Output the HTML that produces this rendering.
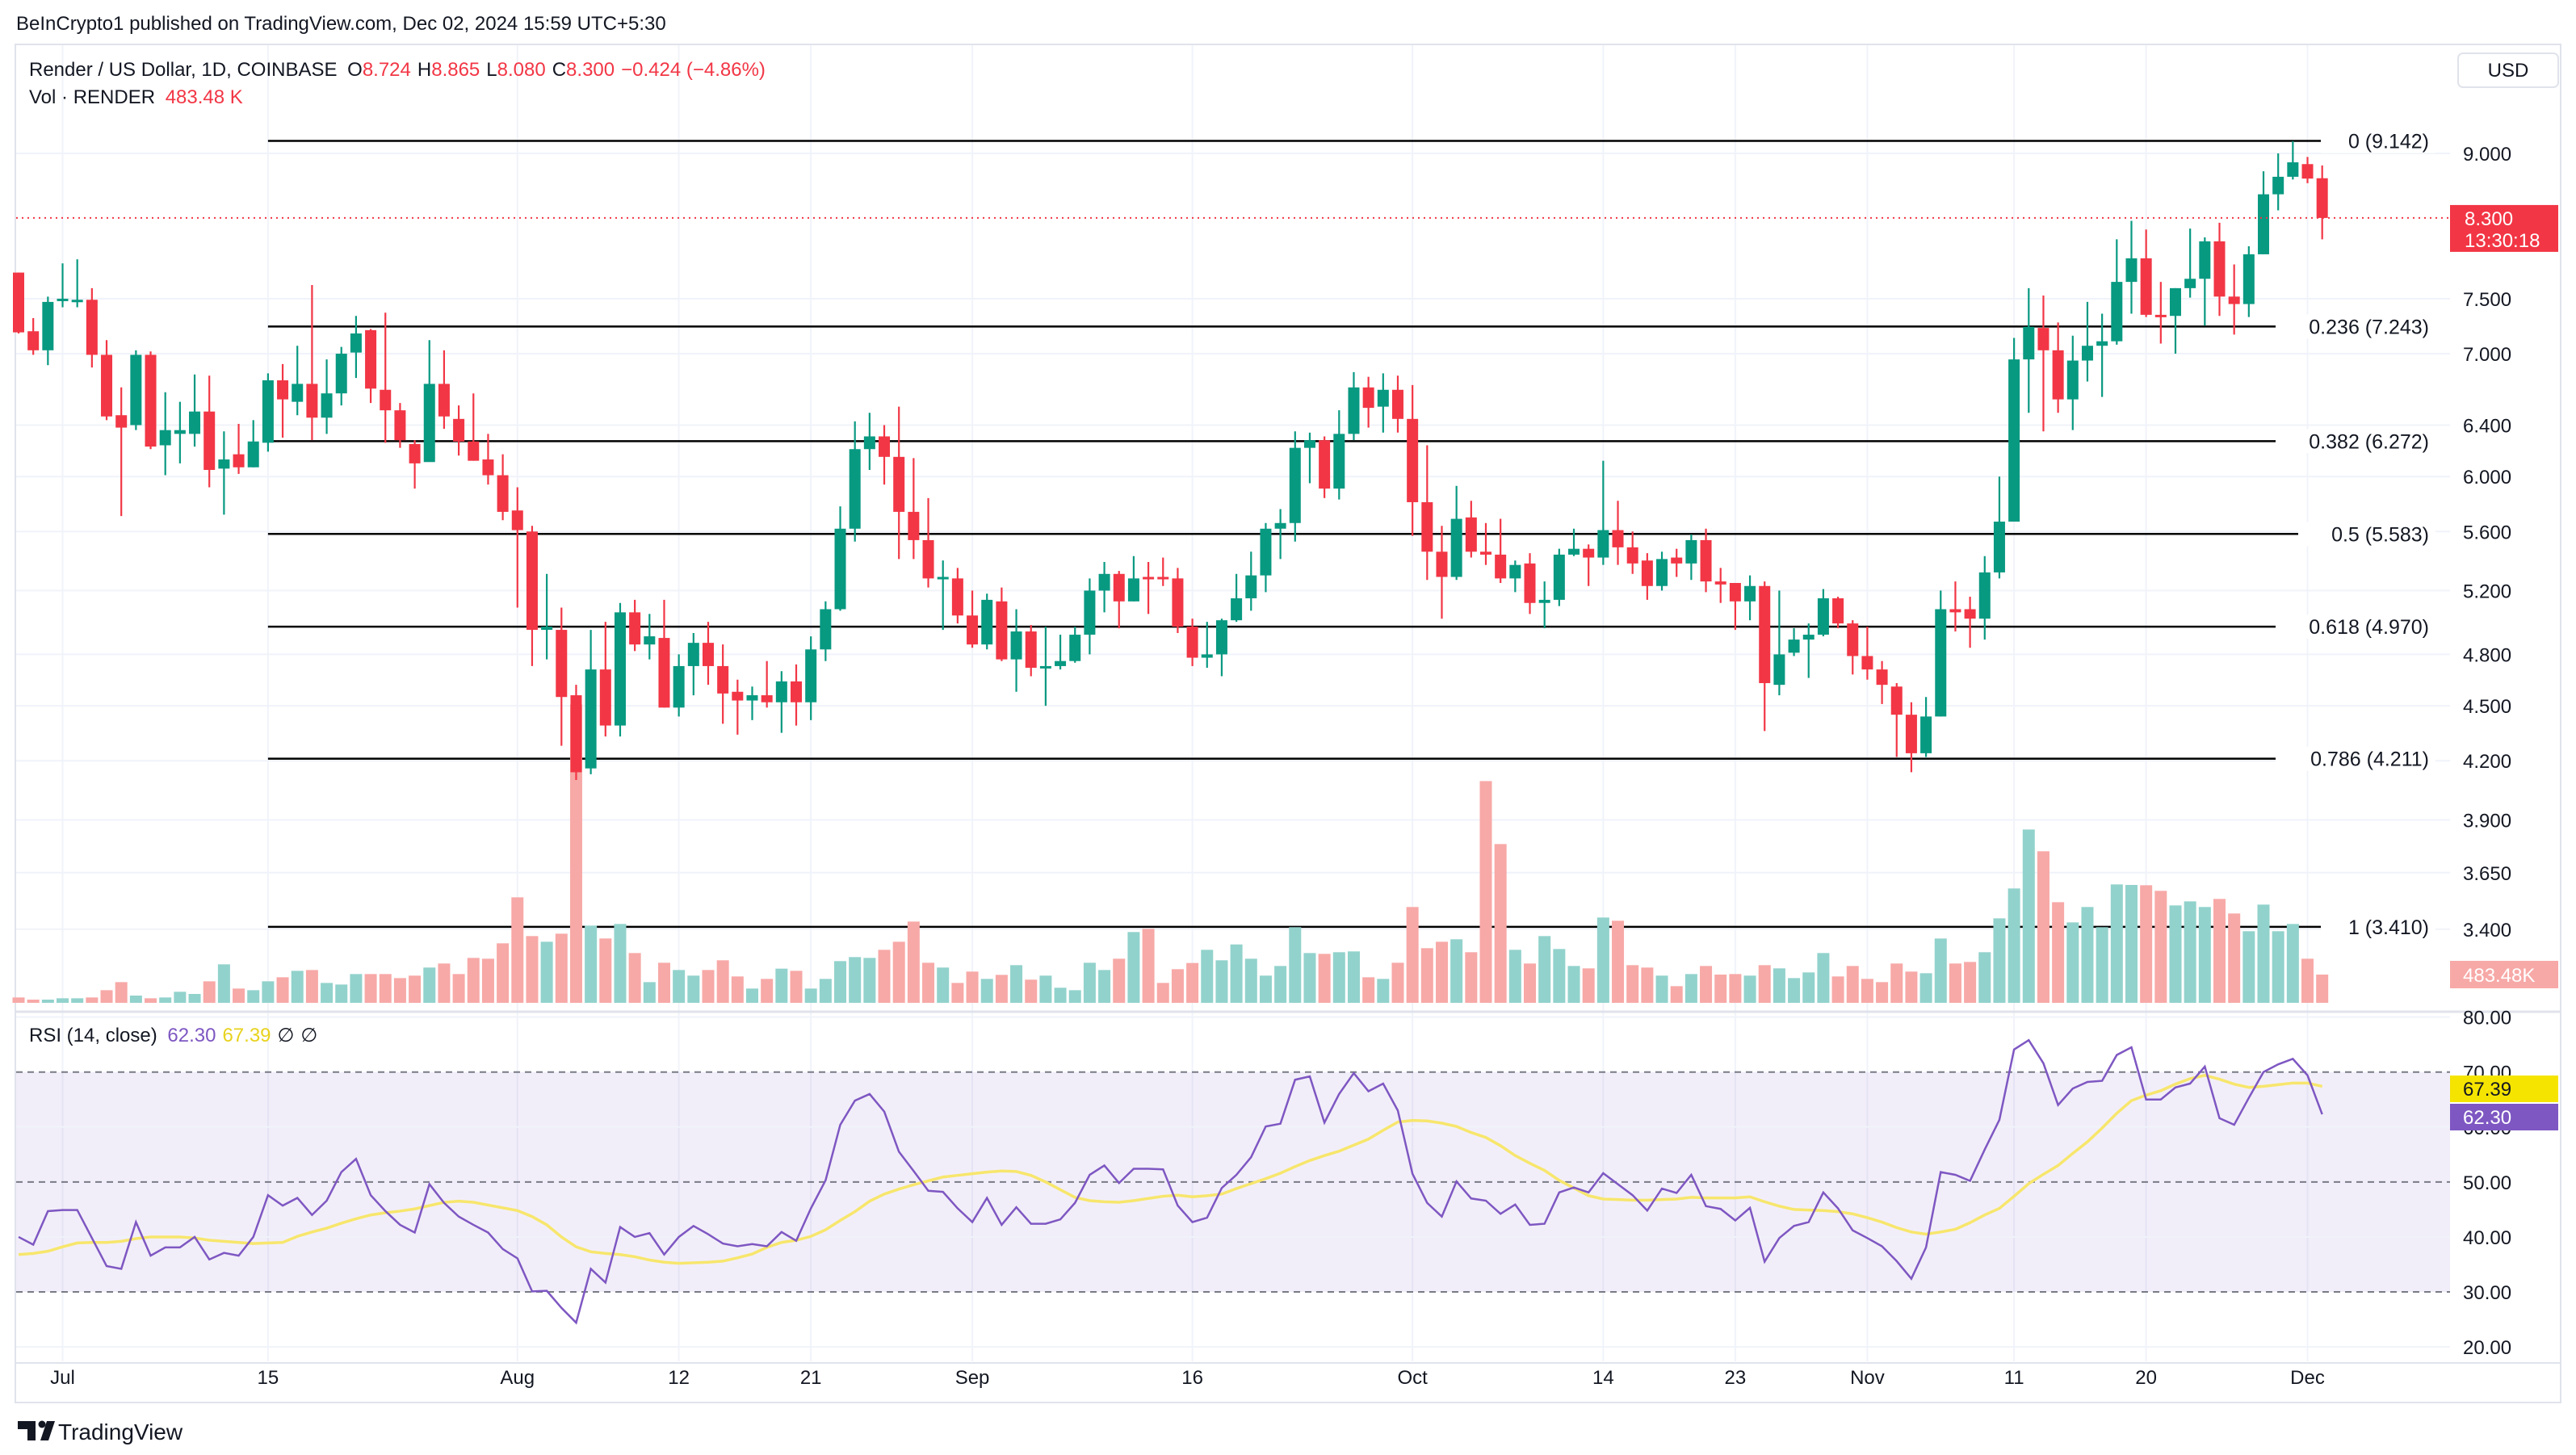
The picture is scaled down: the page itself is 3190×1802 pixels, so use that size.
<!DOCTYPE html>
<html><head><meta charset="utf-8"><style>
html,body{margin:0;padding:0;background:#fff;}
svg{display:block;font-family:"Liberation Sans",sans-serif;}
</style></head><body>
<svg id="chart" width="3190" height="1802" viewBox="0 0 3190 1802" xmlns="http://www.w3.org/2000/svg">
<rect x="0" y="0" width="3190" height="1802" fill="#fff"/>
<text x="20" y="37" font-size="24" fill="#131722">BeInCrypto1 published on TradingView.com, Dec 02, 2024 15:59 UTC+5:30</text>
<rect x="19" y="55" width="3152" height="1682" fill="none" stroke="#e0e3eb" stroke-width="2"/>
<g id="grid"></g>
<g id="fib"></g>
<g id="vol"></g>
<g id="candles"></g>
<g id="rsi"></g>
<g id="axes"></g>
<g>
<text x="36" y="94" font-size="24" fill="#131722">Render / US Dollar, 1D, COINBASE <tspan dx="6">O</tspan><tspan fill="#f23645">8.724</tspan><tspan dx="8">H</tspan><tspan fill="#f23645">8.865</tspan><tspan dx="8">L</tspan><tspan fill="#f23645">8.080</tspan><tspan dx="8">C</tspan><tspan fill="#f23645">8.300</tspan><tspan dx="8" fill="#f23645">−0.424 (−4.86%)</tspan></text>
<text x="36" y="128" font-size="24" fill="#131722">Vol · RENDER <tspan dx="6" fill="#f23645">483.48 K</tspan></text>
<text x="36" y="1290" font-size="24" fill="#131722">RSI (14, close) <tspan dx="6" fill="#7e57c2">62.30</tspan><tspan dx="8" fill="#e8d21d">67.39</tspan><tspan dx="8">∅</tspan><tspan dx="8">∅</tspan></text>
</g>
<g><rect x="3044" y="66" width="124" height="42" rx="6" fill="#fff" stroke="#e0e3eb" stroke-width="2"/><text x="3106" y="95" font-size="24" text-anchor="middle" fill="#131722">USD</text></g>
<g>
<path d="M22 1760h22v24h-10v-14h-12z" fill="#131722"/><circle cx="52" cy="1764" r="4.5" fill="#131722"/><path d="M50 1784l8-24h10l-8 24z" fill="#131722"/>
<text x="72" y="1783" font-size="28" fill="#131722">TradingView</text></g>
</svg>
<script>
const tickDays=[3,17,34,45,54,65,80,95,108,117,126,136,145,156];
const tickLabels=["Jul","15","Aug","12","21","Sep","16","Oct","14","23","Nov","11","20","Dec"];
const priceTicks=[9.0,7.5,7.0,6.4,6.0,5.6,5.2,4.8,4.5,4.2,3.9,3.65,3.4];
const fibRatios=["0","0.236","0.382","0.5","0.618","0.786","1"];
const fibPrices=[9.142,7.243,6.272,5.583,4.970,4.211,3.410];
const rsiTicks=[80,70,60,50,40,30,20];
const open=[7.75,7.2,7.03,7.48,7.48,7.49,6.99,6.48,6.40,6.99,6.24,6.33,6.33,6.51,6.06,6.17,6.07,6.26,6.77,6.59,6.74,6.46,6.66,7.01,7.21,6.69,6.52,6.25,6.11,6.74,6.45,6.27,6.13,6.01,5.75,5.60,4.95,4.95,4.56,4.16,4.71,4.39,5.06,4.86,4.90,4.49,4.73,4.87,4.73,4.58,4.53,4.56,4.52,4.64,4.52,4.83,5.08,5.62,6.21,6.31,6.15,5.74,5.54,5.28,5.28,5.04,4.86,5.13,4.77,4.94,4.72,4.73,4.76,4.92,5.20,5.31,5.13,5.29,5.29,5.28,4.97,4.78,4.80,5.01,5.15,5.30,5.62,5.66,6.22,6.28,5.91,6.33,6.71,6.55,6.69,6.45,5.81,5.46,5.29,5.70,5.46,5.44,5.28,5.38,5.12,5.14,5.44,5.48,5.42,5.61,5.49,5.40,5.23,5.42,5.38,5.54,5.26,5.25,5.13,5.23,4.62,4.81,4.89,4.92,5.15,4.99,4.79,4.71,4.61,4.45,4.24,4.44,5.08,5.08,5.02,5.32,5.67,6.95,7.23,7.03,6.61,6.94,7.07,7.11,7.66,7.89,7.35,7.34,7.60,7.69,8.06,7.52,7.45,7.93,8.55,8.74,8.88,8.724];
const high=[7.75,7.32,7.52,7.84,7.88,7.60,7.12,6.71,7.03,7.02,6.67,6.59,6.82,6.81,6.35,6.41,6.44,6.83,6.91,7.07,7.63,6.95,7.06,7.34,7.22,7.37,6.58,6.28,7.12,7.03,6.56,6.66,6.33,6.17,5.92,5.64,5.31,5.09,4.62,4.95,5.00,5.12,5.14,5.05,5.14,4.80,4.93,5.00,4.86,4.65,4.61,4.76,4.70,4.74,4.91,5.13,5.78,6.43,6.50,6.40,6.55,6.14,5.84,5.40,5.35,5.20,5.18,5.22,5.08,4.98,4.97,4.92,4.97,5.28,5.39,5.33,5.43,5.39,5.42,5.35,5.02,5.00,5.02,5.31,5.46,5.66,5.76,6.35,6.34,6.31,6.52,6.84,6.80,6.83,6.81,6.73,6.24,5.64,5.93,5.82,5.66,5.69,5.40,5.45,5.26,5.48,5.62,5.51,6.12,5.82,5.60,5.45,5.46,5.48,5.58,5.62,5.35,5.25,5.30,5.26,5.20,4.96,4.99,5.21,5.16,5.01,4.97,4.76,4.63,4.52,4.55,5.20,5.26,5.16,5.43,6.00,7.14,7.60,7.53,7.28,7.16,7.47,7.36,8.08,8.27,8.18,7.66,7.60,8.19,8.10,8.25,7.83,8.01,8.80,9.00,9.14,8.96,8.865];
const low=[7.18,6.99,6.90,7.42,7.42,6.88,6.44,5.71,6.36,6.21,6.01,6.10,6.23,5.92,5.72,6.02,6.07,6.19,6.30,6.48,6.28,6.33,6.56,6.79,6.58,6.26,6.22,5.91,6.13,6.37,6.16,6.12,5.94,5.68,5.09,4.73,4.77,4.28,4.10,4.13,4.33,4.33,4.82,4.77,4.49,4.44,4.56,4.62,4.40,4.34,4.42,4.49,4.35,4.39,4.42,4.76,5.07,5.53,6.05,5.94,5.41,5.41,5.22,4.95,4.99,4.84,4.83,4.76,4.58,4.67,4.50,4.71,4.75,4.80,5.06,4.96,5.13,5.05,5.23,4.93,4.73,4.72,4.67,5.00,5.07,5.19,5.41,5.53,5.95,5.84,5.83,6.28,6.38,6.34,6.34,5.57,5.27,5.02,5.27,5.42,5.37,5.25,5.19,5.05,4.96,5.10,5.43,5.23,5.37,5.37,5.31,5.14,5.20,5.29,5.27,5.19,5.12,4.95,5.01,4.36,4.56,4.79,4.66,4.91,4.96,4.68,4.65,4.51,4.22,4.14,4.22,4.44,4.94,4.84,4.89,5.28,5.68,6.50,6.35,6.50,6.36,6.76,6.63,7.08,7.36,7.33,7.09,7.00,7.51,7.25,7.34,7.17,7.33,7.93,8.38,8.71,8.67,8.08];
const close=[7.19,7.03,7.47,7.50,7.49,6.99,6.47,6.38,6.99,6.23,6.36,6.36,6.51,6.05,6.13,6.07,6.27,6.77,6.61,6.74,6.46,6.66,7.00,7.18,6.70,6.52,6.28,6.10,6.74,6.47,6.27,6.12,6.01,5.74,5.61,4.95,4.97,4.55,4.14,4.71,4.39,5.06,4.86,4.91,4.49,4.73,4.87,4.73,4.57,4.53,4.56,4.52,4.64,4.52,4.83,5.08,5.62,6.21,6.31,6.15,5.74,5.54,5.28,5.29,5.04,4.86,5.14,4.77,4.94,4.72,4.73,4.76,4.92,5.20,5.31,5.13,5.28,5.28,5.28,4.97,4.78,4.80,5.01,5.15,5.30,5.62,5.66,6.22,6.28,5.91,6.33,6.71,6.54,6.69,6.45,5.81,5.46,5.29,5.69,5.46,5.44,5.28,5.37,5.12,5.14,5.44,5.48,5.42,5.61,5.49,5.38,5.23,5.41,5.38,5.54,5.26,5.24,5.13,5.23,4.63,4.80,4.89,4.92,5.15,4.99,4.79,4.71,4.62,4.45,4.24,4.44,5.08,5.06,5.02,5.32,5.67,6.95,7.24,7.03,6.61,6.94,7.07,7.11,7.66,7.89,7.35,7.34,7.60,7.69,8.06,7.52,7.45,7.93,8.55,8.74,8.90,8.72,8.30];
const volumeK=[92,55,55,78,78,92,216,354,124,78,92,189,152,368,658,244,216,368,437,547,561,340,313,492,492,492,423,465,603,672,492,768,754,1017,1803,1141,1044,1182,5100,1320,1100,1348,851,354,685,561,465,561,727,451,244,409,584,547,244,409,713,782,768,906,1044,1389,685,603,340,534,409,478,644,396,465,258,216,685,561,754,1210,1265,340,575,681,906,727,998,754,465,630,1293,851,837,865,879,437,409,685,1638,934,1044,1086,865,3790,2714,906,672,1141,920,630,589,1458,1403,644,603,465,285,492,630,483,492,465,644,589,423,520,851,451,630,409,354,672,534,506,1099,672,699,865,1444,1955,2962,2590,1720,1375,1638,1293,2024,2015,2010,1914,1665,1734,1638,1776,1527,1224,1679,1224,1348,754,483];
const rsi=[40.0,38.6,44.7,44.9,44.9,39.8,34.7,34.2,42.7,36.6,38.1,38.1,40.0,35.9,37.1,36.6,40.0,47.6,45.7,47.1,44.0,46.6,51.8,54.2,47.6,44.7,42.2,40.8,49.6,46.2,43.7,42.2,40.8,37.8,36.1,30.1,30.2,27.1,24.4,34.2,31.7,41.8,40.0,40.7,36.8,40.0,42.0,40.5,38.8,38.3,38.7,38.3,40.9,39.3,45.2,50.3,60.4,64.8,66.0,62.8,55.5,52.0,48.4,48.2,45.2,42.7,47.1,42.2,45.4,42.4,42.4,43.2,46.2,51.3,53.0,49.8,52.4,52.4,52.3,45.7,42.7,43.5,48.9,51.3,54.5,60.1,60.6,68.6,69.2,60.8,66.0,69.8,66.5,67.9,63.0,51.5,46.2,43.7,50.1,47.0,46.6,44.2,45.9,42.2,42.4,48.1,49.0,48.1,51.6,49.6,47.6,44.8,48.8,48.0,51.3,45.6,45.1,43.0,45.3,35.5,39.8,42.0,42.7,48.1,45.2,41.2,39.8,38.3,35.6,32.4,38.1,51.8,51.3,50.2,55.9,61.3,74.1,75.8,71.6,64.0,67.0,68.2,68.4,73.1,74.5,65.0,65.0,67.2,67.9,71.0,61.6,60.4,65.3,70.0,71.4,72.4,69.4,62.3];
const rsiMa=[36.8,37.0,37.4,38.2,38.9,39.0,39.0,39.2,39.7,40.0,40.0,40.0,39.8,39.4,39.2,39.0,38.8,38.9,39.0,40.1,40.9,41.6,42.5,43.3,44.0,44.4,44.7,45.1,45.7,46.3,46.5,46.3,45.8,45.3,44.8,43.7,42.2,40.0,38.2,37.3,37.0,36.8,36.4,35.8,35.4,35.2,35.3,35.4,35.6,36.2,36.9,38.1,39.0,39.4,40.1,41.3,43.0,44.6,46.5,47.8,48.7,49.5,50.2,50.9,51.2,51.5,51.8,52.0,51.9,51.2,50.0,48.6,47.2,46.6,46.4,46.3,46.6,47.0,47.4,47.6,47.3,47.5,47.8,48.8,49.7,50.6,51.6,52.8,53.9,54.8,55.6,56.7,57.8,59.4,60.9,61.2,61.1,60.7,60.1,59.0,58.1,56.6,54.8,53.4,52.1,50.3,48.9,47.5,46.9,46.8,46.7,46.7,46.8,46.9,47.2,47.1,47.1,47.1,47.3,46.4,45.6,45.0,44.9,44.8,44.6,44.2,43.5,42.7,41.7,40.9,40.5,40.9,41.4,42.6,44.0,45.2,47.4,49.7,51.4,53.0,55.2,57.3,59.8,62.5,64.8,65.8,66.6,67.8,68.8,69.4,68.7,67.8,67.2,67.4,67.7,68.0,68.0,67.4];

const NS="http://www.w3.org/2000/svg";
const X0=23, DX=18.17, PLOT_R=3034;
const xAt=i=>X0+i*DX;
const yP=p=>190+Math.log(9/p)*987;
const yV=v=>1242-v/13.8;
const yR=v=>1327.7+(70-v)*6.808;
function mk(parent,tag,attrs,text){const e=document.createElementNS(NS,tag);for(const k in attrs)e.setAttribute(k,attrs[k]);if(text!==undefined)e.textContent=text;parent.appendChild(e);return e;}
const G=id=>document.getElementById(id);
const grid=G('grid'),fib=G('fib'),vol=G('vol'),cg=G('candles'),rg=G('rsi'),ax=G('axes');

priceTicks.forEach((p,i)=>{const y=yP(p);
 const l=mk(grid,'line',{x1:20,x2:PLOT_R,y1:y,y2:y,stroke:'#f0f3fa','stroke-width':2});
 
 
 const t=mk(ax,'text',{x:3050,y:y+9,'font-size':24,fill:'#131722'},p.toFixed(3));
 
 
});
tickDays.forEach((d,i)=>{const x=xAt(d);
 const l=mk(grid,'line',{x1:x,x2:x,y1:56,y2:1686,stroke:'#f0f3fa','stroke-width':2});
 
 
 const t=mk(ax,'text',{x:x,y:1714,'font-size':24,'text-anchor':'middle',fill:'#131722'},tickLabels[i]);
 
 
});
mk(grid,'line',{x1:20,x2:3170,y1:1253,y2:1253,stroke:'#e0e3eb','stroke-width':3});
mk(grid,'line',{x1:20,x2:3170,y1:1688,y2:1688,stroke:'#e0e3eb','stroke-width':2});

volumeK.forEach((v,i)=>{const up=close[i]>=open[i];const y=yV(v);
 const r=mk(vol,'rect',{x:xAt(i)-7.5,y:y,width:15,height:1242-y,fill:up?'#92d2cc':'#f7a9a7'});
 
 
});

fibPrices.forEach((p,i)=>{const y=yP(p);
 const l=mk(fib,'line',{x1:xAt(17),x2:2960,y1:y,y2:y,stroke:'#000','stroke-width':2.5});
 
 
});

open.forEach((o,i)=>{const c=close[i],up=c>=o,col=up?'#089981':'#f23645',x=xAt(i);
 const g=mk(cg,'g',{});
 
 
 mk(g,'line',{x1:x,x2:x,y1:yP(high[i]),y2:yP(low[i]),stroke:col,'stroke-width':2.2});
 const t=yP(Math.max(o,c)),b=yP(Math.min(o,c));
 mk(g,'rect',{x:x-7,y:t,width:14,height:Math.max(b-t,3),fill:col});
});

fibPrices.forEach((p,i)=>{const y=yP(p);const s=fibRatios[i]+' ('+p.toFixed(3)+')';
 const w=s.length*14+10;
 const bg=mk(fib,'rect',{x:3010-w,y:y-15,width:w+6,height:30,fill:'#fff'});
 
 const t=mk(fib,'text',{x:3008,y:y+9,'font-size':25,'text-anchor':'end',fill:'#131722'},s);
 
 
});

const cy=yP(close[close.length-1]);
const pl=mk(cg,'line',{x1:20,x2:PLOT_R,y1:cy,y2:cy,stroke:'#f23645','stroke-width':2,'stroke-dasharray':'2 5'});


const pb=mk(ax,'rect',{x:3034,y:cy-16,width:134,height:58,fill:'#f23645'});


mk(ax,'text',{x:3052,y:cy+9,'font-size':24,fill:'#fff'},close[close.length-1].toFixed(3));
mk(ax,'text',{x:3052,y:cy+36,'font-size':24,fill:'#fff'},'13:30:18');
const vlab=volumeK[volumeK.length-1];
const vb=mk(ax,'rect',{x:3034,y:yV(vlab)-17,width:134,height:34,fill:'#f7a9a7'});


mk(ax,'text',{x:3050,y:yV(vlab)+9,'font-size':24,fill:'#fff'},'483.48K');

const band=mk(rg,'rect',{x:20,y:yR(70),width:PLOT_R-20,height:yR(30)-yR(70),fill:'rgba(126,87,194,0.1)'});


rsiTicks.forEach(v=>{const y=yR(v);
 if(v===70||v===50||v===30){const l=mk(rg,'line',{x1:20,x2:PLOT_R,y1:y,y2:y,stroke:'#787b86','stroke-width':2,'stroke-dasharray':'8 6'});
  
  }
 else{const l=mk(rg,'line',{x1:20,x2:PLOT_R,y1:y,y2:y,stroke:'#f0f3fa','stroke-width':2});
  
  }
 const t=mk(ax,'text',{x:3050,y:y+9,'font-size':24,fill:'#131722'},v.toFixed(2));
 
 
});
const maPath=mk(rg,'polyline',{points:rsiMa.map((v,i)=>xAt(i)+','+yR(v)).join(' '),fill:'none',stroke:'#f7e66c','stroke-width':3.5});


const rPath=mk(rg,'polyline',{points:rsi.map((v,i)=>xAt(i)+','+yR(v)).join(' '),fill:'none',stroke:'#7e57c2','stroke-width':2.5});


const yb=mk(ax,'rect',{x:3034,y:1332,width:134,height:33,fill:'#f5e400'});


mk(ax,'text',{x:3050,y:1357,'font-size':24,fill:'#131722'},'67.39');
const pbx=mk(ax,'rect',{x:3034,y:1367,width:134,height:33,fill:'#7e57c2'});


mk(ax,'text',{x:3050,y:1392,'font-size':24,fill:'#fff'},'62.30');
</script>
</body></html>
